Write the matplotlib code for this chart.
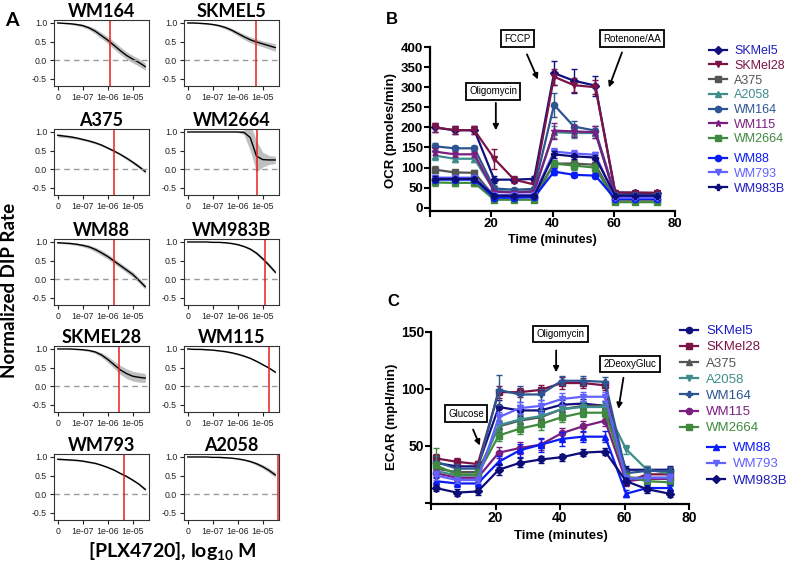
import matplotlib
matplotlib.use("Agg")
import matplotlib.pyplot as plt
import numpy as np

plt.rcParams["font.family"] = ["Liberation Sans", "DejaVu Sans"]
plt.rcParams["mathtext.fontset"] = "custom"
plt.rcParams["mathtext.rm"] = "Lato:bold"
plt.rcParams["mathtext.it"] = "Lato:bold"
plt.rcParams["mathtext.bf"] = "Lato:bold"

W, H = 787, 576

# ---------------- panel A: DIP rate fits ----------------
dose = [-8, -7.75, -7.5, -7.25, -7, -6.75, -6.5, -6.25, -6, -5.75, -5.5, -5.25, -5, -4.75, -4.5]
dose_ticks = [-8, -7, -6, -5]
dose_labels = ["0", "1e-07", "1e-06", "1e-05"]
dip_ticks = [-0.5, 0.0, 0.5, 1.0]
dip_labels = ["-0.5", "0.0", "0.5", "1.0"]

lines_a = ["WM164", "SKMEL5", "A375", "WM2664", "WM88", "WM983B", "SKMEL28", "WM115", "WM793", "A2058"]

dip_wm164 = [1.0, 0.99, 0.98, 0.96, 0.93, 0.87, 0.78, 0.66, 0.54, 0.40, 0.26, 0.13, 0.03, -0.06, -0.17]
dip_skmel5 = [1.0, 1.0, 0.99, 0.98, 0.96, 0.93, 0.88, 0.81, 0.72, 0.63, 0.55, 0.49, 0.44, 0.39, 0.34]
dip_a375 = [0.91, 0.89, 0.87, 0.84, 0.80, 0.76, 0.71, 0.65, 0.57, 0.49, 0.40, 0.30, 0.19, 0.07, -0.06]
dip_wm2664 = [1.0, 1.0, 1.0, 1.0, 1.0, 1.0, 1.0, 1.0, 1.0, 0.99, 0.85, 0.35, 0.26, 0.25, 0.25]
dip_wm88 = [0.98, 0.97, 0.96, 0.94, 0.91, 0.87, 0.80, 0.71, 0.61, 0.49, 0.37, 0.25, 0.13, -0.03, -0.20]
dip_wm983b = [1.0, 1.0, 1.0, 1.0, 0.99, 0.99, 0.98, 0.96, 0.93, 0.88, 0.81, 0.70, 0.55, 0.38, 0.19]
dip_skmel28 = [1.0, 1.0, 1.0, 0.99, 0.98, 0.96, 0.92, 0.84, 0.72, 0.58, 0.44, 0.34, 0.27, 0.24, 0.22]
dip_wm115 = [1.0, 0.99, 0.99, 0.98, 0.97, 0.95, 0.93, 0.90, 0.86, 0.81, 0.75, 0.67, 0.58, 0.49, 0.38]
dip_wm793 = [0.94, 0.93, 0.92, 0.91, 0.89, 0.86, 0.83, 0.78, 0.72, 0.65, 0.56, 0.48, 0.38, 0.27, 0.13]
dip_a2058 = [1.0, 1.0, 1.0, 1.0, 0.99, 0.99, 0.98, 0.97, 0.95, 0.92, 0.88, 0.82, 0.74, 0.64, 0.52]

band_wm164 = [0.01, 0.01, 0.02, 0.03, 0.04, 0.05, 0.07, 0.08, 0.09, 0.1, 0.1, 0.1, 0.1, 0.1, 0.1]
band_skmel5 = [0.01, 0.01, 0.01, 0.02, 0.02, 0.03, 0.04, 0.05, 0.06, 0.07, 0.08, 0.08, 0.08, 0.09, 0.1]
band_a375 = [0.05, 0.04, 0.04, 0.03, 0.03, 0.03, 0.03, 0.03, 0.03, 0.03, 0.03, 0.04, 0.04, 0.05, 0.05]
band_wm2664 = [0, 0, 0, 0, 0, 0, 0, 0, 0.01, 0.06, 0.35, 0.42, 0.2, 0.12, 0.1]
band_wm88 = [0.02, 0.02, 0.03, 0.03, 0.04, 0.05, 0.06, 0.07, 0.07, 0.07, 0.07, 0.07, 0.07, 0.07, 0.07]
band_wm983b = [0, 0, 0, 0, 0, 0.005, 0.01, 0.01, 0.02, 0.02, 0.03, 0.04, 0.05, 0.05, 0.05]
band_skmel28 = [0, 0, 0.01, 0.01, 0.02, 0.03, 0.04, 0.06, 0.08, 0.1, 0.12, 0.13, 0.13, 0.13, 0.12]
band_wm115 = [0.01, 0.01, 0.01, 0.01, 0.01, 0.01, 0.02, 0.02, 0.02, 0.02, 0.02, 0.02, 0.02, 0.02, 0.03]
band_wm793 = [0.02, 0.02, 0.02, 0.02, 0.02, 0.02, 0.02, 0.02, 0.02, 0.02, 0.02, 0.03, 0.03, 0.03, 0.04]
band_a2058 = [0, 0, 0, 0, 0, 0.01, 0.01, 0.01, 0.02, 0.02, 0.03, 0.04, 0.05, 0.06, 0.07]

ic50 = [-5.9, -5.28, -5.77, -5.22, -5.76, -4.91, -5.57, -4.77, -5.36, -4.4]

dip_all = [dip_wm164, dip_skmel5, dip_a375, dip_wm2664, dip_wm88,
           dip_wm983b, dip_skmel28, dip_wm115, dip_wm793, dip_a2058]
band_all = [band_wm164, band_skmel5, band_a375, band_wm2664, band_wm88,
            band_wm983b, band_skmel28, band_wm115, band_wm793, band_a2058]

# ---------------- panels B/C: Seahorse ----------------
time_min = [1.5, 8, 14.5, 21, 27.5, 34, 40.5, 47, 54, 60.5, 67, 74]
lines_bc = ["SKMel5", "SKMel28", "A375", "A2058", "WM164", "WM115", "WM2664", "WM88", "WM793", "WM983B"]

ocr_skmel5 = [200, 193, 193, 70, 70, 72, 335, 316, 304, 38, 37, 37]
ocr_skmel28 = [200, 193, 193, 122, 70, 58, 326, 305, 300, 38, 38, 37]
ocr_a375 = [95, 88, 87, 28, 28, 28, 110, 110, 107, 20, 20, 20]
ocr_a2058 = [130, 122, 122, 42, 40, 42, 188, 186, 186, 28, 28, 28]
ocr_wm164 = [153, 148, 148, 48, 45, 47, 256, 202, 192, 32, 32, 32]
ocr_wm115 = [140, 133, 133, 40, 38, 40, 192, 190, 188, 26, 26, 26]
ocr_wm2664 = [63, 62, 62, 20, 20, 20, 110, 105, 100, 14, 14, 14]
ocr_wm88 = [70, 70, 70, 25, 25, 26, 90, 82, 80, 22, 22, 22]
ocr_wm793 = [75, 75, 75, 32, 32, 33, 140, 135, 132, 25, 25, 25]
ocr_wm983b = [72, 72, 72, 30, 30, 30, 133, 128, 125, 30, 30, 30]

ocr_err_skmel5 = [12, 10, 10, 8, 6, 6, 30, 30, 25, 5, 4, 4]
ocr_err_skmel28 = [12, 10, 10, 25, 8, 6, 20, 18, 18, 5, 4, 4]
ocr_err_a375 = [8, 6, 6, 4, 4, 4, 10, 10, 8, 3, 3, 3]
ocr_err_a2058 = [10, 8, 8, 5, 5, 5, 15, 12, 12, 3, 3, 3]
ocr_err_wm164 = [8, 6, 6, 5, 5, 5, 30, 15, 12, 3, 3, 3]
ocr_err_wm115 = [8, 6, 6, 5, 5, 5, 20, 15, 15, 3, 3, 3]
ocr_err_wm2664 = [10, 8, 8, 4, 4, 4, 10, 12, 10, 3, 3, 3]
ocr_err_wm88 = [6, 5, 5, 4, 4, 4, 8, 6, 6, 3, 3, 3]
ocr_err_wm793 = [6, 5, 5, 4, 4, 4, 8, 8, 8, 3, 3, 3]
ocr_err_wm983b = [6, 5, 5, 4, 4, 4, 8, 6, 6, 3, 3, 3]

ecar_skmel5 = [35, 32, 32, 84, 81, 81, 86, 87, 85, 29, 29, 29]
ecar_skmel28 = [39, 36, 34, 97, 97, 99, 105, 105, 103, 18, 25, 25]
ecar_a375 = [30, 27, 27, 67, 72, 75, 82, 85, 85, 22, 22, 22]
ecar_a2058 = [28, 24, 24, 68, 73, 76, 82, 84, 84, 47, 29, 26]
ecar_wm164 = [36, 30, 30, 99, 95, 95, 107, 107, 106, 26, 28, 28]
ecar_wm115 = [26, 22, 22, 44, 48, 51, 61, 67, 72, 19, 21, 21]
ecar_wm2664 = [33, 25, 25, 59, 65, 69, 75, 79, 79, 23, 19, 18]
ecar_wm88 = [19, 17, 17, 36, 46, 51, 56, 58, 58, 8, 13, 13]
ecar_wm793 = [24, 20, 20, 75, 83, 85, 91, 93, 93, 21, 22, 22]
ecar_wm983b = [13, 9, 10, 29, 35, 38, 40, 44, 45, 19, 12, 8]

ecar_err_skmel5 = [5, 4, 4, 6, 5, 5, 4, 4, 4, 3, 3, 3]
ecar_err_skmel28 = [4, 3, 3, 5, 4, 4, 5, 4, 4, 3, 3, 3]
ecar_err_a375 = [5, 4, 4, 5, 5, 4, 4, 4, 4, 3, 3, 3]
ecar_err_a2058 = [5, 4, 4, 5, 5, 5, 4, 4, 4, 4, 3, 3]
ecar_err_wm164 = [5, 4, 4, 13, 7, 5, 4, 4, 4, 3, 3, 3]
ecar_err_wm115 = [4, 3, 3, 5, 5, 5, 5, 5, 5, 3, 3, 3]
ecar_err_wm2664 = [15, 5, 5, 5, 5, 5, 4, 4, 4, 3, 3, 3]
ecar_err_wm88 = [4, 3, 3, 5, 6, 6, 6, 5, 5, 3, 3, 3]
ecar_err_wm793 = [4, 3, 3, 5, 5, 5, 5, 4, 4, 3, 3, 3]
ecar_err_wm983b = [3, 3, 3, 5, 4, 3, 3, 3, 3, 3, 3, 3]

ocr_all = [ocr_skmel5, ocr_skmel28, ocr_a375, ocr_a2058, ocr_wm164,
           ocr_wm115, ocr_wm2664, ocr_wm88, ocr_wm793, ocr_wm983b]
ocr_err_all = [ocr_err_skmel5, ocr_err_skmel28, ocr_err_a375, ocr_err_a2058, ocr_err_wm164,
               ocr_err_wm115, ocr_err_wm2664, ocr_err_wm88, ocr_err_wm793, ocr_err_wm983b]
ecar_all = [ecar_skmel5, ecar_skmel28, ecar_a375, ecar_a2058, ecar_wm164,
            ecar_wm115, ecar_wm2664, ecar_wm88, ecar_wm793, ecar_wm983b]
ecar_err_all = [ecar_err_skmel5, ecar_err_skmel28, ecar_err_a375, ecar_err_a2058, ecar_err_wm164,
                ecar_err_wm115, ecar_err_wm2664, ecar_err_wm88, ecar_err_wm793, ecar_err_wm983b]

colors = ["#10107f", "#7a1446", "#555555", "#3e8c8c", "#2d5591",
          "#7a1f80", "#3f8a3f", "#0a1cf5", "#6262ff", "#0d0d78"]
text_colors = ["#1c1cc0", "#7a1446", "#555555", "#3e8c8c", "#2d5591",
               "#7a1f80", "#3f8a3f", "#0a1cf5", "#6262ff", "#1c1cc0"]
ocr_markers = ["D", "v", "s", "^", "o", "*", "s", "o", "v", "P"]
ecar_markers = ["o", "s", "^", "v", "P", "o", "s", "^", "v", "D"]


def box(x0, y0, w, h):
    return [x0 / W, 1 - (y0 + h) / H, w / W, h / H]


fig = plt.figure(figsize=(W / 100, H / 100), dpi=100)

# panel A grid
a_cols = [54, 184]
a_rows = [20, 129, 239, 346, 454]
for i, name in enumerate(lines_a):
    r, c = divmod(i, 2)
    ax = fig.add_axes(box(a_cols[c], a_rows[r], 95, 66))
    y = np.array(dip_all[i])
    b = np.array(band_all[i])
    ax.fill_between(dose, y - b, y + b, color="#bfbfbf", lw=0)
    ax.plot(dose, y, color="black", lw=1)
    ax.axhline(0, color="#9a9a9a", ls=(0, (4, 3)), lw=1)
    ax.axvline(ic50[i], color="#e8201c", lw=1.1)
    ax.set_xlim(-8.15, -4.35)
    ax.set_ylim(-0.69, 1.08)
    ax.set_xticks(dose_ticks, dose_labels)
    ax.set_yticks(dip_ticks, dip_labels)
    ax.tick_params(labelsize=6.3, length=3, width=0.8, pad=2, colors="#222222")
    for s in ax.spines.values():
        s.set_linewidth(0.8)
        s.set_color("#333333")
    ax.set_title(name, fontsize=13, fontweight="bold", family="Lato", pad=2)

fig.text(12 / W, 1 - 20 / H, "A", fontsize=14, fontweight="bold", family="Lato", ha="center", va="center")
fig.text(10 / W, 1 - 290 / H, "Normalized DIP Rate", rotation=90, fontsize=13.5,
         fontweight="bold", family="Lato", ha="center", va="center")
fig.text(172 / W, 1 - 551 / H, "[PLX4720], log$_{10}$ M", fontsize=14,
         fontweight="bold", family="Lato", ha="center", va="center")


def seahorse(ax, values, errors, markers):
    handles = []
    for i in range(len(values)):
        ax.errorbar(time_min, values[i], yerr=errors[i], fmt="none", ecolor=colors[i],
                    elinewidth=1, capsize=2.5, capthick=1, zorder=2 + i)
        h, = ax.plot(time_min, values[i], color=colors[i], lw=1.6, marker=markers[i],
                     ms=4.5, zorder=2 + i)
        handles.append(h)
    for s in ["top", "right"]:
        ax.spines[s].set_visible(False)
    for s in ["left", "bottom"]:
        ax.spines[s].set_linewidth(1.6)
    ax.tick_params(direction="out", length=4, width=1.5, labelsize=9.5, pad=1)
    return handles


def add_legends(handles, first_xy, second_xy, fontsize, spacing):
    for sl, (xp, yp) in [(slice(0, 7), first_xy), (slice(7, 10), second_xy)]:
        leg = fig.legend(handles[sl], lines_bc[sl], loc="upper left",
                         bbox_to_anchor=(xp / W, 1 - yp / H), frameon=False,
                         fontsize=fontsize, handlelength=1.4, handletextpad=0.6,
                         labelspacing=spacing, borderpad=0, borderaxespad=0)
        for t, col in zip(leg.get_texts(), text_colors[sl]):
            t.set_color(col)


def note(ax, text, xy_text, start, end):
    ax.text(xy_text[0], xy_text[1], text, fontsize=7, ha="center", va="center", clip_on=False,
            bbox=dict(boxstyle="square,pad=0.35", fc="white", ec="black", lw=1.3), zorder=30)
    ax.annotate("", xy=end, xytext=start, annotation_clip=False,
                arrowprops=dict(arrowstyle="-|>", color="black", lw=1.3, mutation_scale=8), zorder=30)


# panel B
axb = fig.add_axes(box(430, 47, 245, 164))
hb = seahorse(axb, ocr_all, ocr_err_all, ocr_markers)
axb.set_xlim(0, 80)
axb.set_ylim(-8, 400)
axb.set_xticks([0, 20, 40, 60, 80], ["", "20", "40", "60", "80"])
axb.set_yticks(range(0, 401, 50))
for lab in axb.get_xticklabels() + axb.get_yticklabels():
    lab.set_fontweight("bold")
note(axb, "Oligomycin", (20.6, 290), (21.5, 268), (21.5, 186))
note(axb, "FCCP", (28.6, 421), (31.3, 388), (35.6, 313))
note(axb, "Rotenone/AA", (66, 421), (63, 393), (58.1, 293))
add_legends(hb, (709, 45), (709, 153), 9, 0.22)
fig.text(392 / W, 1 - 20 / H, "B", fontsize=12, fontweight="bold", ha="center", va="center")
fig.text(391 / W, 1 - 130 / H, "OCR (pmoles/min)", rotation=90, fontsize=9.5,
         fontweight="bold", ha="center", va="center")
fig.text(552 / W, 1 - 240 / H, "Time (minutes)", fontsize=9, fontweight="bold",
         ha="center", va="center")

# panel C
axc = fig.add_axes(box(431, 331.7, 258, 172.3))
hc = seahorse(axc, ecar_all, ecar_err_all, ecar_markers)
axc.set_xlim(0, 80)
axc.set_ylim(-1, 150)
axc.set_xticks([0, 20, 40, 60, 80], ["", "20", "40", "60", "80"])
axc.set_yticks([0, 50, 100, 150], ["", "50", "100", "150"])
axc.tick_params(labelsize=10)
for lab in axc.get_xticklabels() + axc.get_yticklabels():
    lab.set_fontweight("bold")
note(axc, "Glucose", (10.9, 78), (12.7, 66.5), (15.5, 48))
note(axc, "Oligomycin", (40.2, 148), (38.8, 136), (38.8, 112))
note(axc, "2DeoxyGluc", (61.6, 121.7), (59.8, 112), (58, 80))
add_legends(hc, (680, 325), (707, 442), 9.5, 0.3)
fig.text(393 / W, 1 - 302 / H, "C", fontsize=12, fontweight="bold", ha="center", va="center")
fig.text(392 / W, 1 - 417 / H, "ECAR (mpH/min)", rotation=90, fontsize=9.5,
         fontweight="bold", ha="center", va="center")
fig.text(561 / W, 1 - 536 / H, "Time (minutes)", fontsize=9.5, fontweight="bold",
         ha="center", va="center")

fig.savefig("out.png", dpi=100)
